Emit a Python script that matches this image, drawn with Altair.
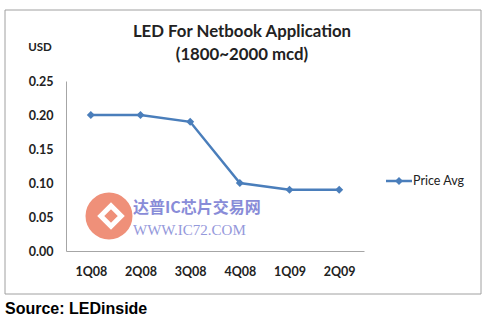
import altair as alt
import pandas as pd

# ---- data ----
quarters = ["1Q08", "2Q08", "3Q08", "4Q08", "1Q09", "2Q09"]
price_avg = [0.20, 0.20, 0.19, 0.10, 0.09, 0.09]
y_ticks = [0.00, 0.05, 0.10, 0.15, 0.20, 0.25]
series_name = "Price Avg"
title_lines = ["LED For Netbook Application", "(1800~2000 mcd)"]
unit_label = "USD"
source_note = "Source: LEDinside"
watermark_lines = ["达普IC芯片交易网", "WWW.IC72.COM"]

df = pd.DataFrame({"quarter": quarters, "price": price_avg, "series": series_name})

W, H = 298, 170
LEFT, TOP = 66, 81
BLUE = "#4A7EBB"
FONT = "Lato"
AXIS_GRAY = "#A6A6A6"


def one(text):
    return pd.DataFrame({"t": [text]})


def txt(text, x, y, **kw):
    return alt.Chart(one(text)).mark_text(**kw).encode(
        x=alt.value(x), y=alt.value(y), text="t:N"
    )


# border around the chart
border = alt.Chart(one("b")).mark_rect(
    fill="white", fillOpacity=0, stroke="#A0A0A0", strokeWidth=1
).encode(
    x=alt.value(5 - LEFT), x2=alt.value(481 - LEFT),
    y=alt.value(10 - TOP), y2=alt.value(294 - TOP)
)

line = alt.Chart(df).mark_line(
    color=BLUE, strokeWidth=2.5,
    point=alt.OverlayMarkDef(shape="diamond", size=64, filled=True, color=BLUE, opacity=1),
).encode(
    x=alt.X("quarter:N", sort=quarters,
            scale=alt.Scale(type="point", padding=0.5),
            axis=alt.Axis(title=None, labelAngle=0, ticks=False, domainColor=AXIS_GRAY,
                          labelFont=FONT, labelFontWeight="bold", labelFontSize=12.5,
                          labelColor="#222222", labelPadding=14)),
    y=alt.Y("price:Q", scale=alt.Scale(domain=[0, 0.25], nice=False, zero=True),
            axis=alt.Axis(title=None, values=y_ticks, format=".2f", ticks=False, grid=False,
                          domainColor=AXIS_GRAY, labelFont=FONT, labelFontWeight="bold",
                          labelFontSize=12.5, labelColor="#222222", labelPadding=13)),
)

title1 = txt(title_lines[0], 242 - LEFT, 32 - TOP, font=FONT, fontSize=16.8,
             fontWeight="bold", color="#222222", align="center", baseline="middle")
title2 = txt(title_lines[1], 242 - LEFT, 55 - TOP, font=FONT, fontSize=16.8,
             fontWeight="bold", color="#222222", align="center", baseline="middle")
usd = txt(unit_label, 40 - LEFT, 48 - TOP, font=FONT, fontSize=11.5,
          fontWeight="bold", color="#222222", align="center", baseline="middle")
source = txt(source_note, 5 - LEFT, 309 - TOP, font="Liberation Sans", fontSize=16,
             fontWeight="bold", color="#000000", align="left", baseline="middle")

# legend
leg_df = pd.DataFrame({"s": [series_name]})
leg_rule = alt.Chart(leg_df).mark_rule(color=BLUE, strokeWidth=2.5).encode(
    x=alt.value(386 - LEFT), x2=alt.value(412 - LEFT), y=alt.value(181 - TOP))
leg_pt = alt.Chart(leg_df).mark_point(shape="diamond", size=64, filled=True,
                                      color=BLUE, opacity=1).encode(
    x=alt.value(399 - LEFT), y=alt.value(181 - TOP))
leg_txt = alt.Chart(leg_df).mark_text(align="left", baseline="middle", font=FONT,
                                      fontSize=12.5, color="#222222").encode(
    x=alt.value(413 - LEFT), y=alt.value(181 - TOP), text="s:N")

# watermark
wm_circle = alt.Chart(one("c")).mark_point(shape="circle", size=2209, filled=True,
                                           color="#EE8A72", opacity=0.95).encode(
    x=alt.value(109 - LEFT), y=alt.value(216 - TOP))
wm_inner = alt.Chart(one("d")).mark_point(shape="diamond", size=420, filled=False,
                                          color="white", strokeWidth=5, opacity=1).encode(
    x=alt.value(111 - LEFT), y=alt.value(216 - TOP))
wm1 = txt(watermark_lines[0], 133 - LEFT, 208 - TOP, font="Noto Sans CJK SC", fontSize=16,
          fontWeight="bold", color="#7C80D4", opacity=0.9, align="left", baseline="middle")
wm2 = txt(watermark_lines[1], 133 - LEFT, 230 - TOP, font="Liberation Serif", fontSize=15,
          color="#8A8ED8", opacity=0.9, align="left", baseline="middle")

chart = alt.layer(
    border, line, title1, title2, usd, source, leg_rule, leg_pt, leg_txt,
    wm_circle, wm_inner, wm1, wm2
).properties(
    width=W, height=H,
    autosize=alt.AutoSizeParams(type="none"),
    padding={"left": LEFT, "top": TOP, "right": 501 - LEFT - W, "bottom": 323 - TOP - H},
    background="white",
).configure_view(strokeWidth=0)

chart.save("out.html", embed_options={"renderer": "svg", "actions": False})
